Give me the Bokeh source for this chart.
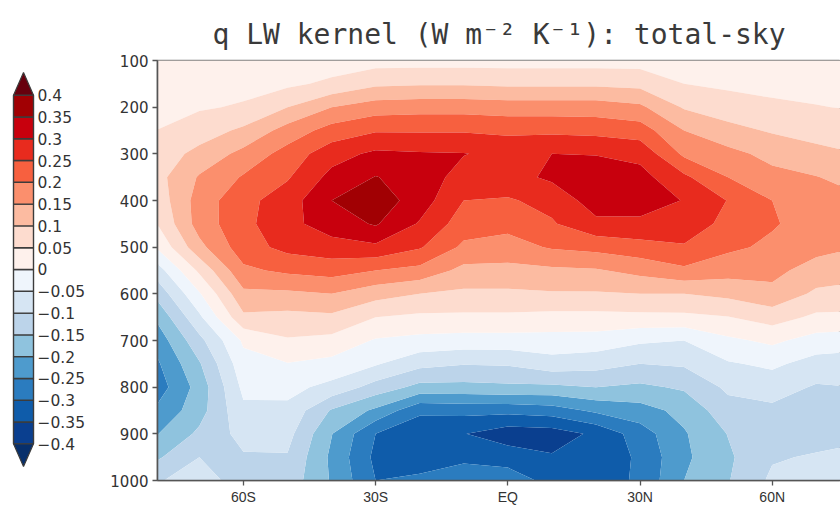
import numpy as np
from bokeh.plotting import figure
from bokeh.models import Range1d, FixedTicker
from bokeh.layouts import row
from bokeh.embed import file_html
from bokeh.resources import INLINE
from bokeh.core.properties import value

# Grid: latitude (deg) and pressure (hPa)
lats = [-80, -70, -60, -50, -40, -30, -20, -10, 0, 10, 20, 30, 40, 50, 60, 70, 80]
plevs = [100, 150, 200, 250, 300, 350, 400, 450, 500, 550, 600, 650, 700,
         750, 800, 850, 900, 950, 1000]

# Zonal-mean q LW kernel (W m-2 K-1), one list per pressure level, lats -80..80
k100 = [0.02, 0.02, 0.02, 0.02, 0.025, 0.03, 0.03, 0.03, 0.03, 0.03, 0.03, 0.03, 0.025, 0.02, 0.02, 0.02, 0.02]
k150 = [0.03, 0.03, 0.035, 0.04, 0.06, 0.09, 0.095, 0.095, 0.09, 0.09, 0.09, 0.085, 0.05, 0.04, 0.035, 0.035, 0.03]
k200 = [0.04, 0.045, 0.055, 0.1, 0.15, 0.175, 0.18, 0.18, 0.175, 0.175, 0.175, 0.16, 0.095, 0.075, 0.06, 0.052, 0.046]
k250 = [0.05, 0.075, 0.11, 0.17, 0.22, 0.245, 0.245, 0.245, 0.24, 0.24, 0.235, 0.225, 0.15, 0.115, 0.095, 0.08, 0.07]
k300 = [0.07, 0.115, 0.165, 0.22, 0.28, 0.31, 0.305, 0.302, 0.285, 0.3, 0.298, 0.285, 0.19, 0.165, 0.135, 0.115, 0.1]
k350 = [0.08, 0.155, 0.205, 0.245, 0.315, 0.352, 0.328, 0.28, 0.28, 0.31, 0.325, 0.318, 0.26, 0.2, 0.165, 0.152, 0.13]
k400 = [0.065, 0.172, 0.235, 0.275, 0.35, 0.38, 0.325, 0.25, 0.245, 0.265, 0.325, 0.322, 0.298, 0.248, 0.2, 0.175, 0.157]
k450 = [0.045, 0.172, 0.236, 0.285, 0.325, 0.355, 0.295, 0.225, 0.215, 0.245, 0.288, 0.29, 0.28, 0.235, 0.205, 0.178, 0.165]
k500 = [0.0, 0.135, 0.228, 0.265, 0.28, 0.29, 0.255, 0.19, 0.18, 0.205, 0.215, 0.23, 0.245, 0.21, 0.19, 0.165, 0.15]
k550 = [-0.08, 0.06, 0.19, 0.21, 0.22, 0.2, 0.185, 0.135, 0.135, 0.14, 0.145, 0.165, 0.19, 0.17, 0.163, 0.13, 0.115]
k600 = [-0.14, -0.005, 0.139, 0.14, 0.15, 0.12, 0.1, 0.09, 0.09, 0.095, 0.095, 0.1, 0.1, 0.113, 0.137, 0.09, 0.085]
k650 = [-0.195, -0.06, 0.09, 0.085, 0.09, 0.05, 0.04, 0.04, 0.04, 0.035, 0.035, 0.037, 0.038, 0.048, 0.072, 0.04, 0.038]
k700 = [-0.235, -0.115, 0.008, 0.045, 0.035, -0.005, -0.015, -0.02, -0.02, -0.02, -0.022, -0.042, -0.05, -0.01, 0.01, -0.02, -0.028]
k750 = [-0.262, -0.155, -0.018, -0.002, -0.015, -0.045, -0.085, -0.097, -0.095, -0.07, -0.08, -0.1, -0.093, -0.055, -0.04, -0.07, -0.075]
k800 = [-0.28, -0.18, -0.038, -0.035, -0.065, -0.12, -0.165, -0.165, -0.16, -0.16, -0.15, -0.16, -0.143, -0.09, -0.08, -0.105, -0.1]
k850 = [-0.245, -0.17, -0.06, -0.062, -0.155, -0.21, -0.29, -0.285, -0.285, -0.275, -0.24, -0.22, -0.185, -0.12, -0.11, -0.125, -0.115]
k900 = [-0.205, -0.14, -0.083, -0.083, -0.198, -0.3, -0.335, -0.348, -0.38, -0.375, -0.34, -0.275, -0.205, -0.148, -0.125, -0.12, -0.115]
k950 = [-0.16, -0.1, -0.105, -0.104, -0.21, -0.312, -0.325, -0.315, -0.32, -0.345, -0.34, -0.29, -0.21, -0.158, -0.105, -0.095, -0.08]
k1000 = [-0.105, -0.08, -0.12, -0.12, -0.205, -0.3, -0.29, -0.26, -0.275, -0.315, -0.33, -0.29, -0.2, -0.153, -0.09, -0.065, -0.04]

# Contour intervals (outer bounds catch the open-ended triangles)
bounds = [-1.0, -0.4, -0.35, -0.3, -0.25, -0.2, -0.15, -0.1, -0.05, 0.0,
          0.05, 0.1, 0.15, 0.2, 0.25, 0.3, 0.35, 0.4, 1.0]
palette = ["#072f6b", "#0a3f8f", "#0f5caa", "#2b7cbf", "#4e9bcd", "#8fc3de",
           "#bcd4ea", "#d6e5f3", "#eff5fc", "#fef1ec", "#fddccf", "#fcbba1",
           "#fb8f6d", "#f7603f", "#e82b1e", "#c8000d", "#a10003", "#67000d"]
bar_labels = ["0.4", "0.35", "0.3", "0.25", "0.2", "0.15", "0.1", "0.05", "0",
              "\u22120.05", "\u22120.1", "\u22120.15", "\u22120.2", "\u22120.25",
              "\u22120.3", "\u22120.35", "\u22120.4"]

lat_ticks = [-60, -30, 0, 30, 60]
lat_tick_labels = ["60S", "30S", "EQ", "30N", "60N"]
p_ticks = [100, 200, 300, 400, 500, 600, 700, 800, 900, 1000]

z = np.array([k100, k150, k200, k250, k300, k350, k400, k450, k500, k550,
              k600, k650, k700, k750, k800, k850, k900, k950, k1000])

# ---- main latitude-pressure panel ----
p = figure(width=740, height=507, x_range=Range1d(-79.5, 75.5),
           y_range=Range1d(1000, 100), output_backend="svg",
           toolbar_location=None, min_border_left=57, min_border_right=0,
           min_border_top=60, min_border_bottom=23)
p.title.text = "q LW kernel (W m\u207b\u00b2 K\u207b\u00b9): total-sky"
p.title.align = "center"
p.title.text_font = "DejaVu Sans Mono"
p.title.text_font_size = "28px"
p.title.text_font_style = "normal"
p.title.text_color = "#3a3a3a"
p.title.standoff = 19

cr = p.contour(x=np.array(lats, dtype=float), y=np.array(plevs, dtype=float), z=z,
               levels=bounds, fill_color=palette, line_color=None)
g = cr.fill_renderer.glyph
g.line_color = g.fill_color
g.line_width = 0.6

p.xgrid.visible = False
p.ygrid.visible = False
p.outline_line_color = "#808080"
p.outline_line_width = 1.5

p.xaxis.ticker = FixedTicker(ticks=lat_ticks)
p.xaxis.major_label_overrides = {t: s for t, s in zip(lat_ticks, lat_tick_labels)}
p.yaxis.ticker = FixedTicker(ticks=p_ticks)
for ax in (p.xaxis[0], p.yaxis[0]):
    ax.axis_line_color = "#555555"
    ax.axis_line_width = 1.6
    ax.major_tick_line_color = "#555555"
    ax.major_tick_line_width = 1.3
    ax.major_tick_out = 5
    ax.major_tick_in = 0
    ax.minor_tick_line_color = None
    ax.major_label_text_color = "#333333"
    ax.major_label_text_font_size = "15px"
p.yaxis.major_label_text_font = "DejaVu Sans"
p.yaxis.major_label_standoff = 4
p.xaxis.major_label_text_font = "'Liberation Sans Narrow', 'Liberation Sans'"
p.xaxis.major_label_text_font_size = "14px"
p.xaxis.major_label_standoff = 3

# ---- colour bar with pointed ends (its frame lines up with the panel frame) ----
cb = figure(width=100, height=507, x_range=Range1d(0, 100),
            y_range=Range1d(-0.4841, 0.4795), output_backend="svg",
            toolbar_location=None, min_border=0)
cb.axis.visible = False
cb.grid.visible = False
cb.outline_line_color = None

inner_lo = bounds[1:-2]
inner_hi = bounds[2:-1]
cb.quad(left=13, right=33, bottom=inner_lo, top=inner_hi,
        fill_color=palette[1:-1], line_color="#3c3c3c", line_width=1.4)
tip = 0.052
cb.patches(xs=[[13, 33, 23], [13, 33, 23]],
           ys=[[bounds[-2], bounds[-2], bounds[-2] + tip],
               [bounds[1], bounds[1], bounds[1] - tip]],
           fill_color=[palette[-1], palette[0]], line_color="#3c3c3c", line_width=1.2)
cb.text(x=37, y=bounds[1:-1][::-1], text=bar_labels, text_baseline="middle",
        text_align="left", text_font=value("DejaVu Sans"), text_font_size="15.5px",
        text_color="#333333")

layout = row(cb, p, spacing=0)
open("out.html", "w").write(file_html(layout, INLINE))
